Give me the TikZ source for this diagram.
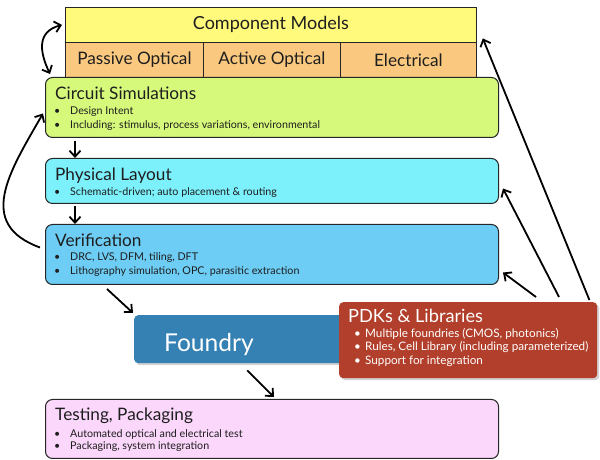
\documentclass[tikz,border=0pt]{standalone}
\usepackage{fontspec}
\setmainfont{Lato}
\usetikzlibrary{arrows.meta,calc,shadows}
\definecolor{cmY}{HTML}{FFF97C}
\definecolor{cmO}{HTML}{FAC97F}
\definecolor{csG}{HTML}{D6F97B}
\definecolor{plC}{HTML}{7DF1FB}
\definecolor{verB}{HTML}{6DCDF5}
\definecolor{fouB}{HTML}{3581B3}
\definecolor{pdkR}{HTML}{B23F2B}
\definecolor{tstP}{HTML}{FAD7FB}
\definecolor{txt}{HTML}{1E1E1E}
\begin{document}
\begin{tikzpicture}[x=1pt,y=1pt,
  box/.style={draw=black!85, line width=1pt, rounded corners=7pt, anchor=north west, inner sep=0pt, minimum width=453},
  cell/.style={draw=black!85, line width=0.8pt, anchor=north west, inner sep=0pt, minimum height=35, text=txt, font=\fontsize{17.2}{19}\selectfont},
  ttl/.style={anchor=base west, inner sep=0pt, font=\fontsize{17.2}{19}\selectfont, text=txt},
  bul/.style={anchor=base west, inner sep=0pt, font=\fontsize{10.7}{12}\selectfont, text=txt},
  wbul/.style={anchor=base west, inner sep=0pt, font=\fontsize{11.7}{13}\selectfont, text=white},
  solid box/.style={anchor=north west, inner sep=0pt, rounded corners=4pt, drop shadow={shadow xshift=2pt, shadow yshift=-2pt, opacity=0.35}},
  arr/.style={line width=1.8pt, -{Straight Barb[length=6pt,width=11pt]}},
  darr/.style={line width=1.8pt, {Straight Barb[length=6pt,width=11pt]}-{Straight Barb[length=6pt,width=11pt]}},
]
\useasboundingbox (0,0) rectangle (600,460);

% component models table
\node[cell, fill=cmY, minimum width=411, font=\fontsize{18}{20}\selectfont] (cmh) at (65,453) {Component Models};
\node[cell, fill=cmO, minimum width=138] (pas) at (65,418) {Passive Optical};
\node[cell, fill=cmO, minimum width=137] (act) at (203,418) {Active Optical};
\node[cell, fill=cmO, minimum width=136] (ele) at (340,418) {Electrical};

% circuit simulations
\node[box, fill=csG, minimum height=60] (cs) at (45,383) {};
\node[ttl] (cst) at (55,360) {Circuit Simulations};
\node[bul] (csb1) at (54,345) {\makebox[16pt][l]{\textbullet}Design Intent};
\node[bul] (csb2) at (54,331) {\makebox[16pt][l]{\textbullet}Including: stimulus, process variations, environmental};

% physical layout
\node[box, fill=plC, minimum height=45] (pl) at (45,302) {};
\node[ttl] (plt) at (55,279) {Physical Layout};
\node[bul] (plb1) at (54,264) {\makebox[16pt][l]{\textbullet}Schematic-driven; auto placement \& routing};

% verification
\node[box, fill=verB, minimum height=60] (ver) at (45,236) {};
\node[ttl] (vert) at (55,213) {Verification};
\node[bul] (verb1) at (54,199) {\makebox[16pt][l]{\textbullet}DRC, LVS, DFM, tiling, DFT};
\node[bul] (verb2) at (54,185) {\makebox[16pt][l]{\textbullet}Lithography simulation, OPC, parasitic extraction};

% foundry
\node[solid box, fill=fouB, minimum width=226, minimum height=48] (fou) at (134,145) {};
\node[anchor=base, inner sep=0pt, text=white, font=\fontsize{24.6}{27}\selectfont] (fout) at (209,108) {Foundry};

% PDKs
\node[solid box, fill=pdkR, minimum width=258, minimum height=76] (pdk) at (339,158) {};
\node[ttl, text=white, font=\fontsize{18.2}{20}\selectfont] (pdkt) at (348,137) {PDKs \& Libraries};
\node[wbul] (pdkb1) at (354,122) {\makebox[11pt][l]{\textbullet}Multiple foundries (CMOS, photonics)};
\node[wbul] (pdkb2) at (354,109) {\makebox[11pt][l]{\textbullet}Rules, Cell Library (including parameterized)};
\node[wbul] (pdkb3) at (354,95) {\makebox[11pt][l]{\textbullet}Support for integration};

% testing
\node[box, fill=tstP, minimum height=59] (tst) at (45,61) {};
\node[ttl] (tstt) at (55,39) {Testing, Packaging};
\node[bul] (tstb1) at (54,22) {\makebox[16pt][l]{\textbullet}Automated optical and electrical test};
\node[bul] (tstb2) at (54,10) {\makebox[16pt][l]{\textbullet}Packaging, system integration};

% connectors
\draw[darr] ($(cmh.west)+(-3,0)$) to[out=195, in=115, looseness=1.3] ($(cs.north west)+(5,3)$);
\draw[arr] ($(cs.south west)+(30,-3)$) -- ($(pl.north west)+(30,0)$);
\draw[arr] ($(pl.south west)+(30,-2)$) -- ($(ver.north west)+(30,0)$);
\draw[arr] ($(ver.west)+(-5,7)$) to[out=160, in=240, looseness=1.3] ($(cs.west)+(-2,-6)$);
\draw[arr] ($(ver.south west)+(62,-4)$) -- ($(fou.north west)+(-1,2)$);
\draw[arr] ($(fou.south)+(0,-7)$) -- ($(tst.north west)+(229,2)$);
\draw[arr] ($(pdk.north west)+(197,5)$) -- ($(ver.east)+(4,-18)$);
\draw[arr] ($(pdk.north west)+(220,5)$) -- ($(pl.east)+(4,-7.5)$);
\draw[arr] ($(pdk.north east)+(-8,2)$) -- ($(cmh.east)+(6,-13.5)$);
\end{tikzpicture}
\end{document}
